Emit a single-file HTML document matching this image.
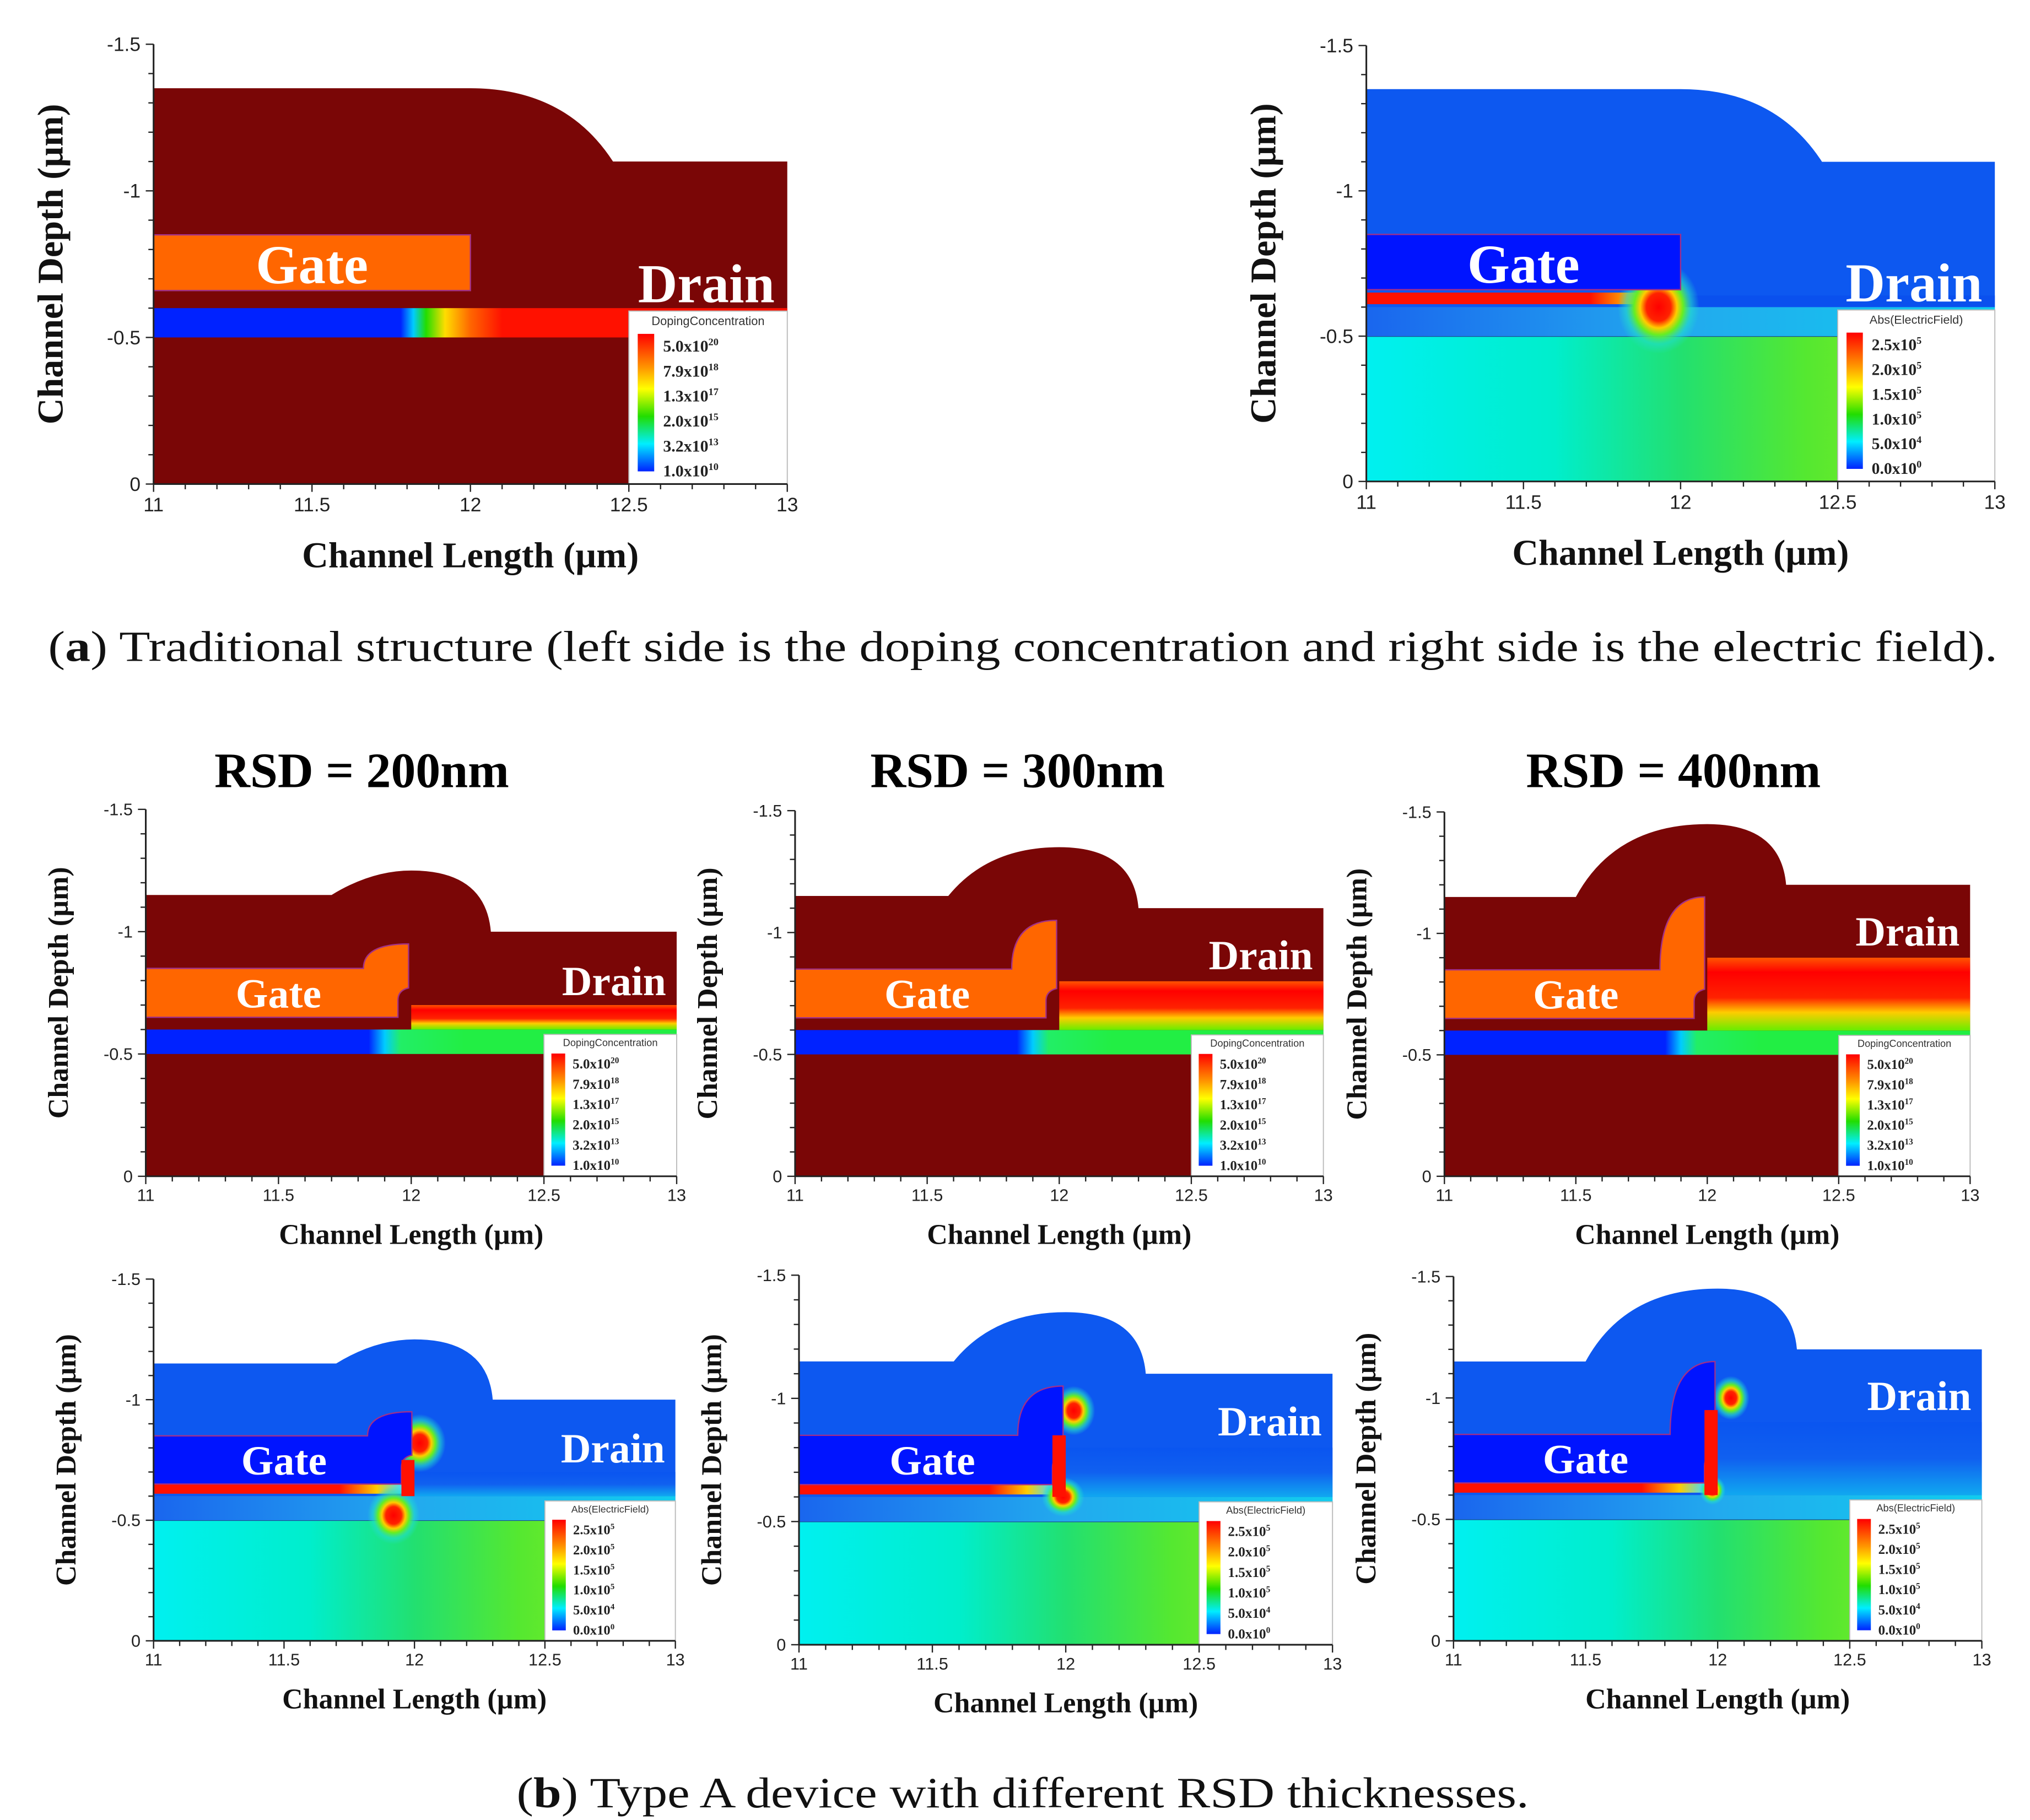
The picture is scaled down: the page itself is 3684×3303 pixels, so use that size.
<!DOCTYPE html>
<html><head><meta charset="utf-8"><style>
html,body{margin:0;padding:0;background:#fff;}
svg{display:block;}
</style></head><body>
<svg id="fig" xmlns="http://www.w3.org/2000/svg" width="3684" height="3303" viewBox="0 0 1560 1398.7">
<defs>
<linearGradient id="legDop" x1="0" y1="0" x2="0" y2="1">
<stop offset="0" stop-color="#ff0000"/><stop offset="0.25" stop-color="#ff9900"/><stop offset="0.4" stop-color="#ffff00"/><stop offset="0.6" stop-color="#22dd00"/><stop offset="0.8" stop-color="#00eeff"/><stop offset="1" stop-color="#0022ff"/></linearGradient>
<linearGradient id="chanA" x1="0" y1="0" x2="1" y2="0">
<stop offset="0" stop-color="#0022ff"/><stop offset="0.39" stop-color="#0022ff"/><stop offset="0.41" stop-color="#00ccff"/><stop offset="0.43" stop-color="#22dd00"/><stop offset="0.46" stop-color="#ffdd00"/><stop offset="0.5" stop-color="#ff6600"/><stop offset="0.55" stop-color="#ff1100"/><stop offset="1" stop-color="#ff1100"/></linearGradient>
<linearGradient id="chanB" x1="0" y1="0" x2="1" y2="0">
<stop offset="0" stop-color="#0022ff"/><stop offset="0.42" stop-color="#0022ff"/><stop offset="0.45" stop-color="#00ccff"/><stop offset="0.48" stop-color="#22ee66"/><stop offset="0.6" stop-color="#22ee44"/><stop offset="1" stop-color="#22ee44"/></linearGradient>
<linearGradient id="drainDop" x1="0" y1="0" x2="0" y2="1">
<stop offset="0" stop-color="#ff5500"/><stop offset="0.2" stop-color="#ff0000"/><stop offset="0.55" stop-color="#ff2200"/><stop offset="0.75" stop-color="#ffcc00"/><stop offset="1" stop-color="#66ee00"/></linearGradient>
<linearGradient id="subF" x1="0" y1="0" x2="1" y2="0">
<stop offset="0" stop-color="#00f0f0"/><stop offset="0.3" stop-color="#00eecc"/><stop offset="0.5" stop-color="#22e070"/><stop offset="0.7" stop-color="#55e830"/><stop offset="1" stop-color="#99ee22"/></linearGradient>
<linearGradient id="chanF" x1="0" y1="0" x2="1" y2="0">
<stop offset="0" stop-color="#1a66ee"/><stop offset="0.5" stop-color="#22aaee"/><stop offset="1" stop-color="#11ccee"/></linearGradient>
<linearGradient id="drainF" x1="0" y1="0" x2="0" y2="1">
<stop offset="0" stop-color="#0a55f0"/><stop offset="0.5" stop-color="#1060f0"/><stop offset="1" stop-color="#10a8f0"/></linearGradient>
<radialGradient id="hot"><stop offset="0" stop-color="#ff0000"/><stop offset="0.3" stop-color="#ff2200"/><stop offset="0.45" stop-color="#ffcc00"/><stop offset="0.6" stop-color="#66ee22"/><stop offset="0.8" stop-color="#22ddcc" stop-opacity="0.6"/><stop offset="1" stop-color="#22ddcc" stop-opacity="0"/></radialGradient>
<linearGradient id="oxRed" x1="0" y1="0" x2="1" y2="0">
<stop offset="0" stop-color="#ff1100"/><stop offset="0.75" stop-color="#ff1100"/><stop offset="0.9" stop-color="#ffcc00"/><stop offset="1" stop-color="#44ddff"/></linearGradient>
</defs>
<g id="root"></g>
</svg>
<script>
var xTickLabels = ["11","11.5","12","12.5","13"];
var xTickValues = [11, 11.5, 12, 12.5, 13];
var yTickLabels = ["-1.5","-1","-0.5","0"];
var yTickValues = [-1.5, -1, -0.5, 0];
var dopLegend = ["5.0x10","7.9x10","1.3x10","2.0x10","3.2x10","1.0x10"];
var dopExp = ["20","18","17","15","13","10"];
var fieldLegend = ["2.5x10","2.0x10","1.5x10","1.0x10","5.0x10","0.0x10"];
var fieldExp = ["5","5","5","5","4","0"];

var NS = "http://www.w3.org/2000/svg";
var root = document.getElementById('root');
function el(tag, attrs, parent, txt){
  var e = document.createElementNS(NS, tag);
  for (var k in attrs) e.setAttribute(k, attrs[k]);
  if (txt !== undefined) e.textContent = txt;
  (parent || root).appendChild(e);
  return e;
}

function panel(c){
  var g = el('g', {});
  
  
  var X = function(v){ return c.x0 + (v-11)/2*(c.x1-c.x0); };
  var Y = function(d){ return c.y1 + d/1.5*(c.y1-c.y0); };
  var field = c.type === 'field';
  var p;
  if (c.trad){
    p = 'M'+X(11)+','+Y(0)+' L'+X(11)+','+Y(c.top)+' L'+X(12)+','+Y(c.top)+
        ' Q'+X(12.3)+','+Y(c.top)+' '+X(12.45)+','+Y(c.right)+' L'+X(13)+','+Y(c.right)+' L'+X(13)+','+Y(0)+' Z';
  } else {
    p = 'M'+X(11)+','+Y(0)+' L'+X(11)+','+Y(c.top)+' L'+X(c.bs)+','+Y(c.top)+
        ' Q'+X(c.bs+0.15)+','+Y(c.peak)+' '+X(c.px)+','+Y(c.peak)+
        ' Q'+X(c.be-0.02)+','+Y(c.peak)+' '+X(c.be)+','+Y(c.right)+
        ' L'+X(13)+','+Y(c.right)+' L'+X(13)+','+Y(0)+' Z';
  }
  var body = el('path', {d:p, fill: field ? '#0d58f0' : '#7a0606'}, g);
  
  
  if (field){
    var sub = el('rect', {x:X(11), y:Y(-0.5), width:X(13)-X(11), height:Y(0)-Y(-0.5), fill:'url(#subF)'}, g);
    
    
    el('line', {x1:X(11), x2:X(13), y1:Y(-0.5), y2:Y(-0.5), stroke:'#1a4a90', 'stroke-width':1}, g);
  }
  var ch = el('rect', {x:X(11), y:Y(-0.6), width:X(13)-X(11), height:Y(-0.5)-Y(-0.6),
     fill: field ? 'url(#chanF)' : (c.trad ? 'url(#chanA)' : 'url(#chanB)')}, g);
  
  
  if (!c.trad){
    var dr = el('rect', {x:X(12), y:Y(c.dt), width:X(13)-X(12), height:Y(-0.6)-Y(c.dt),
       fill: field ? 'url(#drainF)' : 'url(#drainDop)'}, g);
    
    
  } else if (field){
    el('rect', {x:X(12), y:Y(-0.64), width:X(13)-X(12), height:Y(-0.6)-Y(-0.64), fill:'#0a50ee'}, g);
  }
  if (field){
    var ox = el('rect', {x:X(11), y:Y(-0.65), width:X(11.95)-X(11), height:Y(-0.61)-Y(-0.65), fill:'url(#oxRed)'}, g);
    
    
  }
  if (field){
    for (var i=0;i<c.hot.length;i++){
      var h = c.hot[i];
      var hs = el('ellipse', {cx:X(h[0]), cy:Y(h[1]), rx:(X(11+h[2])-X(11)), ry:(Y(0)-Y(-h[3])), fill:'url(#hot)'}, g);
      
      
    }
  }
  var gp;
  if (c.trad){
    gp = 'M'+X(11)+','+Y(-0.66)+' L'+X(11)+','+Y(-0.85)+' L'+X(12)+','+Y(-0.85)+' L'+X(12)+','+Y(-0.66)+' Z';
  } else {
    gp = 'M'+X(11)+','+Y(-0.65)+' L'+X(11)+','+Y(-0.85)+' L'+X(11.82)+','+Y(-0.85)+
         ' Q'+X(11.82)+','+Y(c.gt)+' '+X(11.99)+','+Y(c.gt)+' L'+X(11.99)+','+Y(-0.77)+
         ' Q'+X(11.95)+','+Y(-0.76)+' '+X(11.95)+','+Y(-0.72)+' L'+X(11.95)+','+Y(-0.65)+' Z';
  }
  var gate = el('path', {d:gp, fill: field ? '#0014ff' : '#ff6600', stroke:'#a0308a', 'stroke-width':1}, g);
  
  
  if (field && !c.trad){
    var vs = el('rect', {x:X(11.95), y:Y(c.rv), width:X(12.0)-X(11.95), height:Y(-0.6)-Y(c.rv), fill:'#ff1100'}, g);
    
    
  }
  var gl = el('text', {x:X(11.5), y:Y(-0.75)+c.fs*0.35, 'text-anchor':'middle', fill:'#fff',
     'font-family':'Liberation Serif, serif', 'font-weight':'bold', 'font-size':c.fs}, g, 'Gate');
  
  
  var dl = el('text', {x:X(12.96), y:Y(c.dly), 'text-anchor':'end', fill:'#fff',
     'font-family':'Liberation Serif, serif', 'font-weight':'bold', 'font-size':c.fs}, g, 'Drain');
  
  
  var lx = X(12.5), ly = Y(c.legTop), lw = X(13)-X(12.5), lh = Y(0)-ly;
  var lg = el('g', {}, g);
  
  
  el('rect', {x:lx, y:ly, width:lw, height:lh, fill:'#fff', stroke:'#bbb', 'stroke-width':0.8}, lg);
  var s = lw/125;
  el('text', {x:lx+lw/2, y:ly+11*s, 'text-anchor':'middle', 'font-family':'Liberation Sans, sans-serif', 'font-size':9.5*s, fill:'#333'}, lg, field ? 'Abs(ElectricField)' : 'DopingConcentration');
  el('rect', {x:lx+7*s, y:ly+18*s, width:13*s, height:lh-28*s, fill:'url(#legDop)'}, lg);
  var labs = field ? fieldLegend : dopLegend, exps = field ? fieldExp : dopExp;
  var step = (lh-38*s)/5;
  for (var k=0;k<labs.length;k++){
    var t = el('text', {x:lx+27*s, y:ly+32*s+k*step, 'font-family':'Liberation Serif, serif', 'font-weight':'bold', 'font-size':13*s, fill:'#222'}, lg);
    
    
    el('tspan', {}, t, labs[k]);
    el('tspan', {dy:-5*s, 'font-size':8*s}, t, exps[k]);
  }
  el('line', {x1:c.x0, x2:c.x0, y1:c.y0, y2:c.y1, stroke:'#222', 'stroke-width':1.3}, g);
  el('line', {x1:c.x0, x2:c.x1, y1:c.y1, y2:c.y1, stroke:'#222', 'stroke-width':1.3}, g);
  for (var v=0; v<=20; v++){
    var xv = X(11+v*0.1), maj = v%5===0;
    el('line', {x1:xv, x2:xv, y1:c.y1, y2:c.y1+(maj?6:4), stroke:'#222', 'stroke-width':1}, g);
  }
  for (var v2=0; v2<=15; v2++){
    var yv = Y(-v2*0.1), maj2 = v2%5===0;
    el('line', {x1:c.x0-(maj2?6:4), x2:c.x0, y1:yv, y2:yv, stroke:'#222', 'stroke-width':1}, g);
  }
  var tfs = c.tfs;
  for (var i2=0;i2<xTickValues.length;i2++){
    var xt = el('text', {x:X(xTickValues[i2]), y:c.y1+tfs+6, 'text-anchor':'middle', 'font-family':'Liberation Sans, sans-serif', 'font-size':tfs, fill:'#222'}, g, xTickLabels[i2]);
    
    
  }
  for (var i3=0;i3<yTickValues.length;i3++){
    var yt = el('text', {x:c.x0-10, y:Y(yTickValues[i3])+tfs*0.35, 'text-anchor':'end', 'font-family':'Liberation Sans, sans-serif', 'font-size':tfs, fill:'#222'}, g, yTickLabels[i3]);
    
    
  }
  var xtitle = el('text', {x:(c.x0+c.x1)/2, y:c.y1+c.xtOff, 'text-anchor':'middle', 'font-family':'Liberation Serif, serif', 'font-weight':'bold', 'font-size':c.afs, fill:'#111'}, g, 'Channel Length (\u00b5m)');
  
  
  var ytx = c.x0 - c.ytOff, yty = (c.y0+c.y1)/2;
  var ytitle = el('text', {x:ytx, y:yty, 'text-anchor':'middle', transform:'rotate(-90 '+ytx+' '+yty+')', 'font-family':'Liberation Serif, serif', 'font-weight':'bold', 'font-size':c.afs, fill:'#111'}, g, 'Channel Depth (\u00b5m)');
  
  
}

var A = {trad:true, top:-1.35, right:-1.1, legTop:-0.59, fs:42, dly:-0.62, tfs:15, afs:28, xtOff:64, ytOff:70};
function mk(base, extra){ var o={}; for (var k in base) o[k]=base[k]; for (var k2 in extra) o[k2]=extra[k2]; return o; }
panel(mk(A, {name:'panel-a-doping', type:'dop', x0:118, x1:605, y0:34, y1:372}));
panel(mk(A, {name:'panel-a-field', type:'field', x0:1050, x1:1533, y0:35, y1:370, hot:[[11.93,-0.6,0.13,0.16]]}));

var B = {trad:false, top:-1.15, legTop:-0.58, fs:32, tfs:13, afs:22, xtOff:52, ytOff:60};
var r200 = {bs:11.7, peak:-1.25, px:12.0, be:12.3, right:-1.0, gt:-0.95, dt:-0.7, dly:-0.74, rv:-0.75};
var r300 = {bs:11.58, peak:-1.35, px:12.0, be:12.3, right:-1.1, gt:-1.05, dt:-0.8, dly:-0.85, rv:-0.85};
var r400 = {bs:11.5, peak:-1.45, px:12.0, be:12.3, right:-1.2, gt:-1.15, dt:-0.9, dly:-0.95, rv:-0.95};
panel(mk(mk(B, r200), {name:'panel-b-200-doping', type:'dop', x0:112, x1:520, y0:622, y1:904}));
panel(mk(mk(B, r300), {name:'panel-b-300-doping', type:'dop', x0:611, x1:1017, y0:623, y1:904}));
panel(mk(mk(B, r400), {name:'panel-b-400-doping', type:'dop', x0:1110, x1:1514, y0:624, y1:904}));
panel(mk(mk(B, r200), {name:'panel-b-200-field', type:'field', x0:118, x1:519, y0:983, y1:1261, hot:[[12.02,-0.82,0.1,0.12],[11.92,-0.52,0.1,0.12]]}));
panel(mk(mk(B, r300), {name:'panel-b-300-field', type:'field', x0:614, x1:1024, y0:980, y1:1264, hot:[[12.03,-0.95,0.08,0.1],[11.99,-0.6,0.08,0.08]]}));
panel(mk(mk(B, r400), {name:'panel-b-400-field', type:'field', x0:1117, x1:1523, y0:981, y1:1261, hot:[[12.05,-1.0,0.07,0.09],[11.98,-0.62,0.05,0.06]]}));

var titles = ["RSD = 200nm","RSD = 300nm","RSD = 400nm"];
var tx = [278, 782, 1286];
for (var i=0;i<titles.length;i++){
  var t = el('text', {x:tx[i], y:605, 'text-anchor':'middle', 'font-family':'Liberation Serif, serif', 'font-weight':'bold', 'font-size':38, fill:'#000'}, root, titles[i]);
  
  
}
var ca = el('text', {x:37, y:508, textLength:1498, lengthAdjust:'spacingAndGlyphs', 'font-family':'Liberation Serif, serif', 'font-size':33, fill:'#111'}, root);


el('tspan', {}, ca, '(');
el('tspan', {'font-weight':'bold'}, ca, 'a');
el('tspan', {}, ca, ') Traditional structure (left side is the doping concentration and right side is the electric field).');
var cb = el('text', {x:397, y:1389, textLength:778, lengthAdjust:'spacingAndGlyphs', 'font-family':'Liberation Serif, serif', 'font-size':33, fill:'#111'}, root);


el('tspan', {}, cb, '(');
el('tspan', {'font-weight':'bold'}, cb, 'b');
el('tspan', {}, cb, ') Type A device with different RSD thicknesses.');
</script>
</body></html>
